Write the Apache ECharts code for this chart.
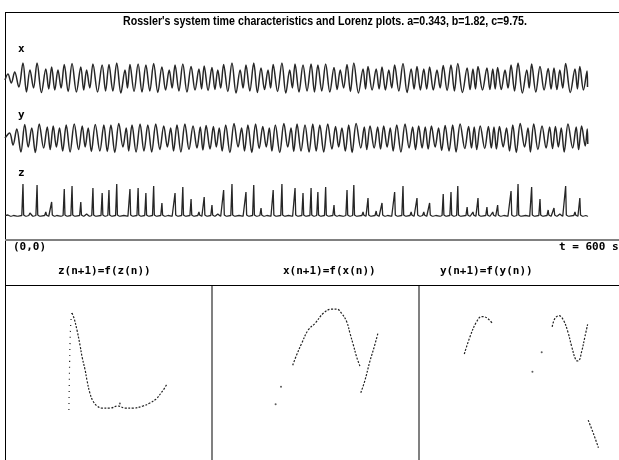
<!DOCTYPE html>
<html><head><meta charset="utf-8">
<script src="https://cdn.jsdelivr.net/npm/echarts/dist/echarts.min.js"></script>
<style>html,body{margin:0;padding:0;background:#fff}#c{width:619px;height:460px}</style>
</head><body><div id="c"></div><script>
// ---- time characteristics (t in seconds, one entry per oscillation cycle) ----
const tPk = [3,10,18.5,25.7,33,42,48,54.5,61,69,78,84,90.5,100,107,115,123.5,128.6,137,145,153,161.5,169,175,183,191.5,199.6,205,213,219,225,233.6,242,248,256,263.5,270.7,276,285,293,298.5,306.7,315,322,330,338.6,345,352,359,368.5,373.6,382,388,395,401,409.6,418,424,431,437,444.6,451,459,466,475.6,481.6,486.8,496,502,507,514.6,520.8,528,537,542,550.6,559,565,571,577,586.6,591.6,599];
const xPk = [4,6,15,8,15,9,11,8,13.5,14.5,11,8,14,13,13.5,15,8,13.5,14,13,14.5,11,8,13,14,11.5,9,12,10.5,8,13.5,15,8,13,15,10,8,13.5,15,8,14,13,14,13,14,10.5,8,13.5,15,9,11.5,9,11,8,13,14.5,9,11.5,9,11,8,12.5,13,14.5,10,9,11.5,10,9,10.5,8,13,15,8,14,11.5,9.5,10,8,14.5,9,11.5,7];
const xTr = [-5,-9,-14,-10,-14.5,-11,-12,-10,-13.5,-14,-12,-10,-14,-13,-13,-15,-10,-13.5,-14,-13,-14.5,-12,-10,-13,-14,-12,-11,-12.5,-11.5,-10,-13.5,-15,-10,-13,-14.5,-11.5,-10,-13.5,-15,-10,-14,-13,-14,-13,-14,-11.5,-10,-13.5,-15,-11,-12,-11,-12,-10,-13,-14.5,-11,-12,-11,-12,-10,-12.5,-13,-14.5,-11.5,-11,-12,-11.5,-11,-11.5,-10,-13,-15,-10,-14,-12,-11,-11.5,-10,-14.5,-11,-12,-9];
const yPk = [5,9,13.5,10,14,11,12,10,13,14,12,10,13.5,13,13,14.5,10,13,14,13,14,12,10,13,14,12,11,12.5,11.5,10,13,14.5,10,13,14,11.5,10,13,14.5,10,14,13,14,13,14,11.5,10,13,14.5,11,12,11,12,10,13,14,11,12,11,12,10,12.5,13,14,11.5,11,12,11.5,11,11.5,10,13,14.5,10,14,12,11,11.5,10,14,11,12,9];
const yTr = [-7,-14,-9,-14.5,-10,-11.5,-9,-13,-14,-11.5,-9,-13.5,-13,-13.5,-14.5,-9,-13,-14,-13,-14,-11.5,-9,-13,-14,-11.5,-10,-12,-11,-9,-13,-14.5,-9,-13,-14.5,-10.5,-9,-13,-14.5,-9,-13.5,-13,-14,-13,-14,-11,-9,-13,-14.5,-10,-11.5,-10,-11,-9,-13,-14,-10,-11.5,-10,-11,-9,-12.5,-13,-14,-10.5,-10,-11.5,-10.5,-10,-11,-9,-13,-14.5,-9,-14,-11.5,-10,-10.5,-9,-14,-10,-11.5,-8,-6];
const zPk = [1,2,32,3,31,4,14,2,27,30,14,2,28,23,26,32,2,27,28,23,30,13,2,23,29,17,4,19,11,2,26,32,2,24,31,8,2,26,32,2,28,23,28,24,29,11,2,26,31,4,18,5,13,2,24,30,4,18,4,13,2,22,24,30,9,4,18,9,4,11,2,25,32,2,29,17,6,8,2,30,4,18,1];

// ---- Lorenz maps (successive maxima) ----
const zMapLeft = [[0.3,-0.3],[0.5,13],[0.7,23],[1,29.7],[1.3,32]];
const zMapMain = [[1.3,32],[2,30.3],[3,26.3],[4,21.3],[4.7,17.3],[5.7,13],[6.3,9.7],[7.3,5.3],[8.3,2.7],[9.7,1],[11.3,0.3],[14,0.3],[16.7,1],[19,0.3],[21.7,0.3],[25,1],[27.3,2],[29.3,3.3],[31.3,5.7],[33,8.3]];
const zMapDots = [[17.3,1.8]];
const xMapArc = [[13.45,15.8],[14.1,17.5],[14.95,19.45],[16.05,21.7],[17.2,22.8],[18.55,24.45],[19.95,25.15],[20.8,25.15],[21.6,24.45],[22.45,23.05],[23,21.1],[23.55,19.2],[24.1,17.2],[24.65,15.65]];
const xMapRight = [[24.8,11.2],[25.5,13.3],[26.3,16.4],[27.05,18.9],[27.7,21.3]];
const xMapDots = [[10.6,9.3],[11.5,12.2]];
const yMapLeft = [[7.55,17.67],[8.5,20.55],[9.6,23.05],[10.45,23.9],[11.3,23.7],[12.2,22.8]];
const yMapV = [[22.2,22.2],[22.65,23.6],[23.35,24.05],[24.05,23.35],[24.8,21.4],[25.45,18.9],[26.15,16.65],[26.55,16.5],[27.1,18.05],[27.65,20.55],[28.1,22.6]];
const yMapLow = [[28.2,6.65],[29.05,4.45],[29.9,2.05]];
const yMapDots = [[20.45,17.95],[18.9,14.7]];

// ---- labels ----
const titleText = "Rossler's system time characteristics and Lorenz plots. a=0.343, b=1.82, c=9.75.";
const seriesLabels = ['x','y','z'];
const mapLabels = ['z(n+1)=f(z(n))','x(n+1)=f(x(n))','y(n+1)=f(y(n))'];
const originLabel = '(0,0)';
const endLabel = 't = 600 s';

// build time-series point lists from the read extremes
const n = tPk.length;
const xData = [[0,-2]], yData = [[0,0]], zData = [[0,0.3]];
for (let i = 0; i < n; i++) {
  const t0 = tPk[i], t1 = i < n - 1 ? tPk[i+1] : 600;
  xData.push([t0, xPk[i]]); xData.push([(t0 + t1) / 2, xTr[i]]);
  yData.push([t0 + (t1 - t0) * 0.25, yPk[i]]); yData.push([t0 + (t1 - t0) * 0.75, yTr[i]]);
  zData.push([t0 - 1.2, 0.5]); zData.push([t0, zPk[i]]); zData.push([t0 + 0.7, 1]); zData.push([Math.min(t0 + 3, 600), -0.5]);
}

const LINE = '#262626';
const tsGrids = [
  {left:5, right:31, top:62, height:32},
  {left:5, right:31, top:122, height:32},
  {left:5, right:31, top:183, height:33}
];
const mapGrids = [
  {left:5, top:285, width:207, height:175},
  {left:212, top:285, width:207, height:175},
  {left:419, top:285, width:200, height:175}
];
const ax = (gi, min, max) => ({type:'value', gridIndex:gi, min:min, max:max, show:false});
const xAxes = [ax(0,0,600), ax(1,0,600), ax(2,0,600), ax(3,-21,48), ax(4,0,34.5), ax(5,0,33.33)];
const yAxes = [ax(0,-16,16), ax(1,-16,16), ax(2,0,33), ax(3,-17,41.33), ax(4,0,29.17), ax(5,0,29.17)];

const tsLine = (i, data, smooth, w) => ({type:'line', xAxisIndex:i, yAxisIndex:i, data:data, showSymbol:false, smooth:smooth, silent:true, animation:false, lineStyle:{color:LINE, width:w}});
const mapLine = (i, data, dash) => ({type:'line', xAxisIndex:i, yAxisIndex:i, data:data, showSymbol:false, smooth:0.4, silent:true, animation:false, lineStyle:{color:'#222', width:1.2, type:dash}});
const mapDots = (i, data) => ({type:'scatter', xAxisIndex:i, yAxisIndex:i, data:data, symbolSize:2, silent:true, animation:false, itemStyle:{color:'#333'}});

const txt = (x, y, s, font, extra) => Object.assign({type:'text', left:x, top:y, style:{text:s, font:font, fill:'#000'}}, extra || {});
const seg = (x1, y1, x2, y2, color, w) => ({type:'line', shape:{x1:x1,y1:y1,x2:x2,y2:y2}, style:{stroke:color, lineWidth:w}, silent:true});
const pix = 'bold 11px "DejaVu Sans Mono"';

// condense the title to the reference width (narrow sans)
const titleFont = 'bold 12px "Liberation Sans"';
const mctx = document.createElement('canvas').getContext('2d');
mctx.font = titleFont;
const titleScale = 404 / mctx.measureText(titleText).width;

const chart = echarts.init(document.getElementById('c'), null, {renderer:'canvas'});
chart.setOption({
  animation:false,
  backgroundColor:'#fff',
  grid: tsGrids.concat(mapGrids),
  xAxis: xAxes,
  yAxis: yAxes,
  series: [
    tsLine(0, xData, 0.35, 1.5), tsLine(1, yData, 0.35, 1.5), tsLine(2, zData, false, 1.3),
    mapLine(3, zMapLeft, [1,5]), mapLine(3, zMapMain, [2,1.5]), mapDots(3, zMapDots),
    mapLine(4, xMapArc, [2,1.5]), mapLine(4, xMapRight, [2,1.5]), mapDots(4, xMapDots),
    mapLine(5, yMapLeft, [2,1.5]), mapLine(5, yMapV, [2,1.5]), mapLine(5, yMapLow, [2,1.5]), mapDots(5, yMapDots)
  ],
  graphic: [
    seg(5, 12.5, 619, 12.5, '#000', 1),
    seg(5.5, 12, 5.5, 460, '#000', 1),
    seg(5, 240, 619, 240, '#808080', 2),
    seg(5, 285.5, 619, 285.5, '#000', 1),
    seg(212, 286, 212, 460, '#808080', 2),
    seg(419, 286, 419, 460, '#808080', 2),
    {type:'text', x:123, y:16, scaleX:titleScale, style:{text:titleText, font:titleFont, fill:'#000'}},
    txt(18, 44, seriesLabels[0], pix),
    txt(18, 110, seriesLabels[1], pix),
    txt(18, 168, seriesLabels[2], pix),
    txt(13, 242, originLabel, pix),
    txt(559, 242, endLabel, pix),
    txt(58, 266, mapLabels[0], pix),
    txt(283, 266, mapLabels[1], pix),
    txt(440, 266, mapLabels[2], pix)
  ]
});
</script></body></html>
